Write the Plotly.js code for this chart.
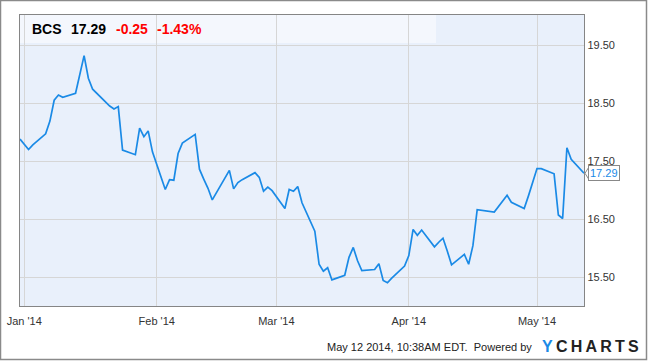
<!DOCTYPE html>
<html>
<head>
<meta charset="utf-8">
<script src="https://cdn.plot.ly/plotly-3.0.1.min.js"></script>
<style>
  html, body { margin: 0; padding: 0; background: #ffffff; }
  #chart { width: 650px; height: 362px; }
</style>
</head>
<body>
<div id="chart"></div>
<script>
// ---- data ----
const ticker = "BCS";
const lastPrice = "17.29";
const change = "-0.25";
const changePct = "-1.43%";
const timestamp = "May 12 2014, 10:38AM EDT.  Powered by";

const dates = [
  "2013-12-31",
  "2014-01-02","2014-01-03","2014-01-06","2014-01-07","2014-01-08","2014-01-09","2014-01-10",
  "2014-01-13","2014-01-14","2014-01-15","2014-01-16","2014-01-17",
  "2014-01-21","2014-01-22","2014-01-23","2014-01-24",
  "2014-01-27","2014-01-28","2014-01-29","2014-01-30","2014-01-31",
  "2014-02-03","2014-02-04","2014-02-05","2014-02-06","2014-02-07",
  "2014-02-10","2014-02-11","2014-02-12","2014-02-13","2014-02-14",
  "2014-02-18","2014-02-19","2014-02-20","2014-02-21",
  "2014-02-24","2014-02-25","2014-02-26","2014-02-27","2014-02-28",
  "2014-03-03","2014-03-04","2014-03-05","2014-03-06","2014-03-07",
  "2014-03-10","2014-03-11","2014-03-12","2014-03-13","2014-03-14",
  "2014-03-17","2014-03-18","2014-03-19","2014-03-20","2014-03-21",
  "2014-03-24","2014-03-25","2014-03-26","2014-03-27","2014-03-28",
  "2014-03-31","2014-04-01","2014-04-02","2014-04-03","2014-04-04",
  "2014-04-07","2014-04-08","2014-04-09","2014-04-10","2014-04-11",
  "2014-04-14","2014-04-15","2014-04-16","2014-04-17",
  "2014-04-21","2014-04-22","2014-04-23","2014-04-24","2014-04-25",
  "2014-04-28","2014-04-29","2014-04-30","2014-05-01","2014-05-02",
  "2014-05-05","2014-05-06","2014-05-07","2014-05-08","2014-05-09",
  "2014-05-12"
];
const prices = [
  17.88,
  17.70,17.78,17.97,18.19,18.55,18.64,18.60,
  18.67,18.99,19.32,18.93,18.74,
  18.45,18.40,18.44,17.69,
  17.61,18.07,17.92,18.02,17.66,
  17.01,17.18,17.17,17.63,17.81,
  17.96,17.36,17.19,17.03,16.83,
  17.34,17.02,17.13,17.18,
  17.30,17.22,16.98,17.05,16.99,
  16.68,17.01,16.98,17.06,16.78,
  16.29,15.72,15.60,15.66,15.45,
  15.53,15.84,16.01,15.78,15.61,
  15.63,15.73,15.44,15.40,15.48,
  15.69,15.87,16.32,16.22,16.31,
  16.02,16.10,16.17,15.95,15.71,
  15.89,15.72,16.04,16.66,
  16.62,16.71,16.81,16.91,16.79,
  16.68,16.90,17.12,17.37,17.37,
  17.28,16.57,16.51,17.73,17.53,
  17.29
];

const xTickVals = ["2014-01-01","2014-02-01","2014-03-01","2014-04-01","2014-05-01"];
const xTickText = ["Jan '14","Feb '14","Mar '14","Apr '14","May '14"];
const yTickVals = [15.5, 16.5, 17.5, 18.5, 19.5];
const yTickText = ["15.50","16.50","17.50","18.50","19.50"];

// ---- styles ----
const lineBlue = "#1a8ae6";
const borderGray = "#858585";
const gridGray = "#d6d6d6";
const font = "Arial, 'Liberation Sans', sans-serif";

const lastY = prices[prices.length - 1];

const trace = {
  x: dates, y: prices, type: "scatter", mode: "lines",
  line: { color: lineBlue, width: 1.7 },
  hoverinfo: "skip"
};

// plot area in pixels: x 20..584, y 15..306
const PW = 564, PH = 291;
const px = v => v / PW;      // pixel width -> paper
const py = v => v / PH;      // pixel height -> paper

const layout = {
  width: 650, height: 362,
  margin: { l: 20, r: 66, t: 15, b: 56, pad: 0 },
  paper_bgcolor: "#ffffff",
  plot_bgcolor: "#e9f0fb",
  showlegend: false,
  font: { family: font, size: 11, color: "#333333" },
  xaxis: {
    type: "date",
    range: ["2013-12-31", "2014-05-12"],
    tickmode: "array", tickvals: xTickVals, ticktext: xTickText,
    showgrid: true, gridcolor: gridGray, gridwidth: 1,
    showline: true, mirror: true, linecolor: borderGray, linewidth: 1.2,
    ticks: "", ticklabelstandoff: 5, zeroline: false, fixedrange: true,
    tickfont: { family: font, size: 11, color: "#333333" }
  },
  yaxis: {
    side: "right",
    range: [15.0, 20.02],
    tickmode: "array", tickvals: yTickVals, ticktext: yTickText,
    showgrid: true, gridcolor: gridGray, gridwidth: 1,
    showline: true, mirror: true, linecolor: borderGray, linewidth: 1.2,
    ticks: "", ticklabelstandoff: 0, zeroline: false, fixedrange: true,
    tickfont: { family: font, size: 11, color: "#333333" }
  },
  shapes: [
    // header band
    { type: "rect", xref: "paper", yref: "paper", layer: "below",
      x0: 0, x1: px(416), y0: 1 - py(28), y1: 1,
      fillcolor: "#f4f7fd", line: { width: 0 } },
    // outer frame
    { type: "rect", xref: "paper", yref: "paper", layer: "above",
      x0: px(-19.5), x1: px(626.5), y0: -py(53.5), y1: 1 + py(14.5),
      fillcolor: "rgba(0,0,0,0)", line: { color: "#8a8a8a", width: 1.5 } },
    // pointer of the last-value tag
    { type: "path", xref: "paper", yref: "y", layer: "above",
      path: "M " + (1 + px(1)) + " " + lastY +
            " L " + (1 + px(5)) + " " + (lastY + 0.11) +
            " L " + (1 + px(5)) + " " + (lastY - 0.11) + " Z",
      fillcolor: "#ffffff", line: { color: "#888888", width: 1 } }
  ],
  annotations: [
    { xref: "paper", yref: "paper", x: 0, y: 1, xanchor: "left", yanchor: "middle",
      xshift: 10, yshift: -14, showarrow: false,
      text: "<b>" + ticker + "</b>", font: { family: font, size: 14, color: "#000000" } },
    { xref: "paper", yref: "paper", x: 0, y: 1, xanchor: "left", yanchor: "middle",
      xshift: 49, yshift: -14, showarrow: false,
      text: "<b>" + lastPrice + "</b>", font: { family: font, size: 14, color: "#000000" } },
    { xref: "paper", yref: "paper", x: 0, y: 1, xanchor: "left", yanchor: "middle",
      xshift: 94, yshift: -14, showarrow: false,
      text: "<b>" + change + "</b>", font: { family: font, size: 14, color: "#ff0000" } },
    { xref: "paper", yref: "paper", x: 0, y: 1, xanchor: "left", yanchor: "middle",
      xshift: 135, yshift: -14, showarrow: false,
      text: "<b>" + changePct + "</b>", font: { family: font, size: 14, color: "#ff0000" } },
    // last value tag
    { xref: "paper", yref: "y", x: 1, y: lastY, xanchor: "left", yanchor: "middle",
      xshift: 4, showarrow: false, text: lastPrice,
      font: { family: font, size: 11, color: lineBlue },
      bgcolor: "#ffffff", bordercolor: "#888888", borderwidth: 1, borderpad: 1 },
    // footer
    { xref: "paper", yref: "paper", x: px(514), y: -py(40.7), xanchor: "right", yanchor: "middle",
      showarrow: false, text: timestamp,
      font: { family: font, size: 11, color: "#222222" } },
    { xref: "paper", yref: "paper", x: px(520), y: -py(40.7), xanchor: "left", yanchor: "middle",
      showarrow: false,
      text: "<b><span style='color:" + lineBlue + "'>Y</span>\u2009C\u2009H\u2009A\u2009R\u2009T\u2009S</b>",
      font: { family: font, size: 16, color: "#222222" } }
  ]
};

Plotly.newPlot("chart", [trace], layout, { staticPlot: true, displayModeBar: false });
</script>
</body>
</html>
